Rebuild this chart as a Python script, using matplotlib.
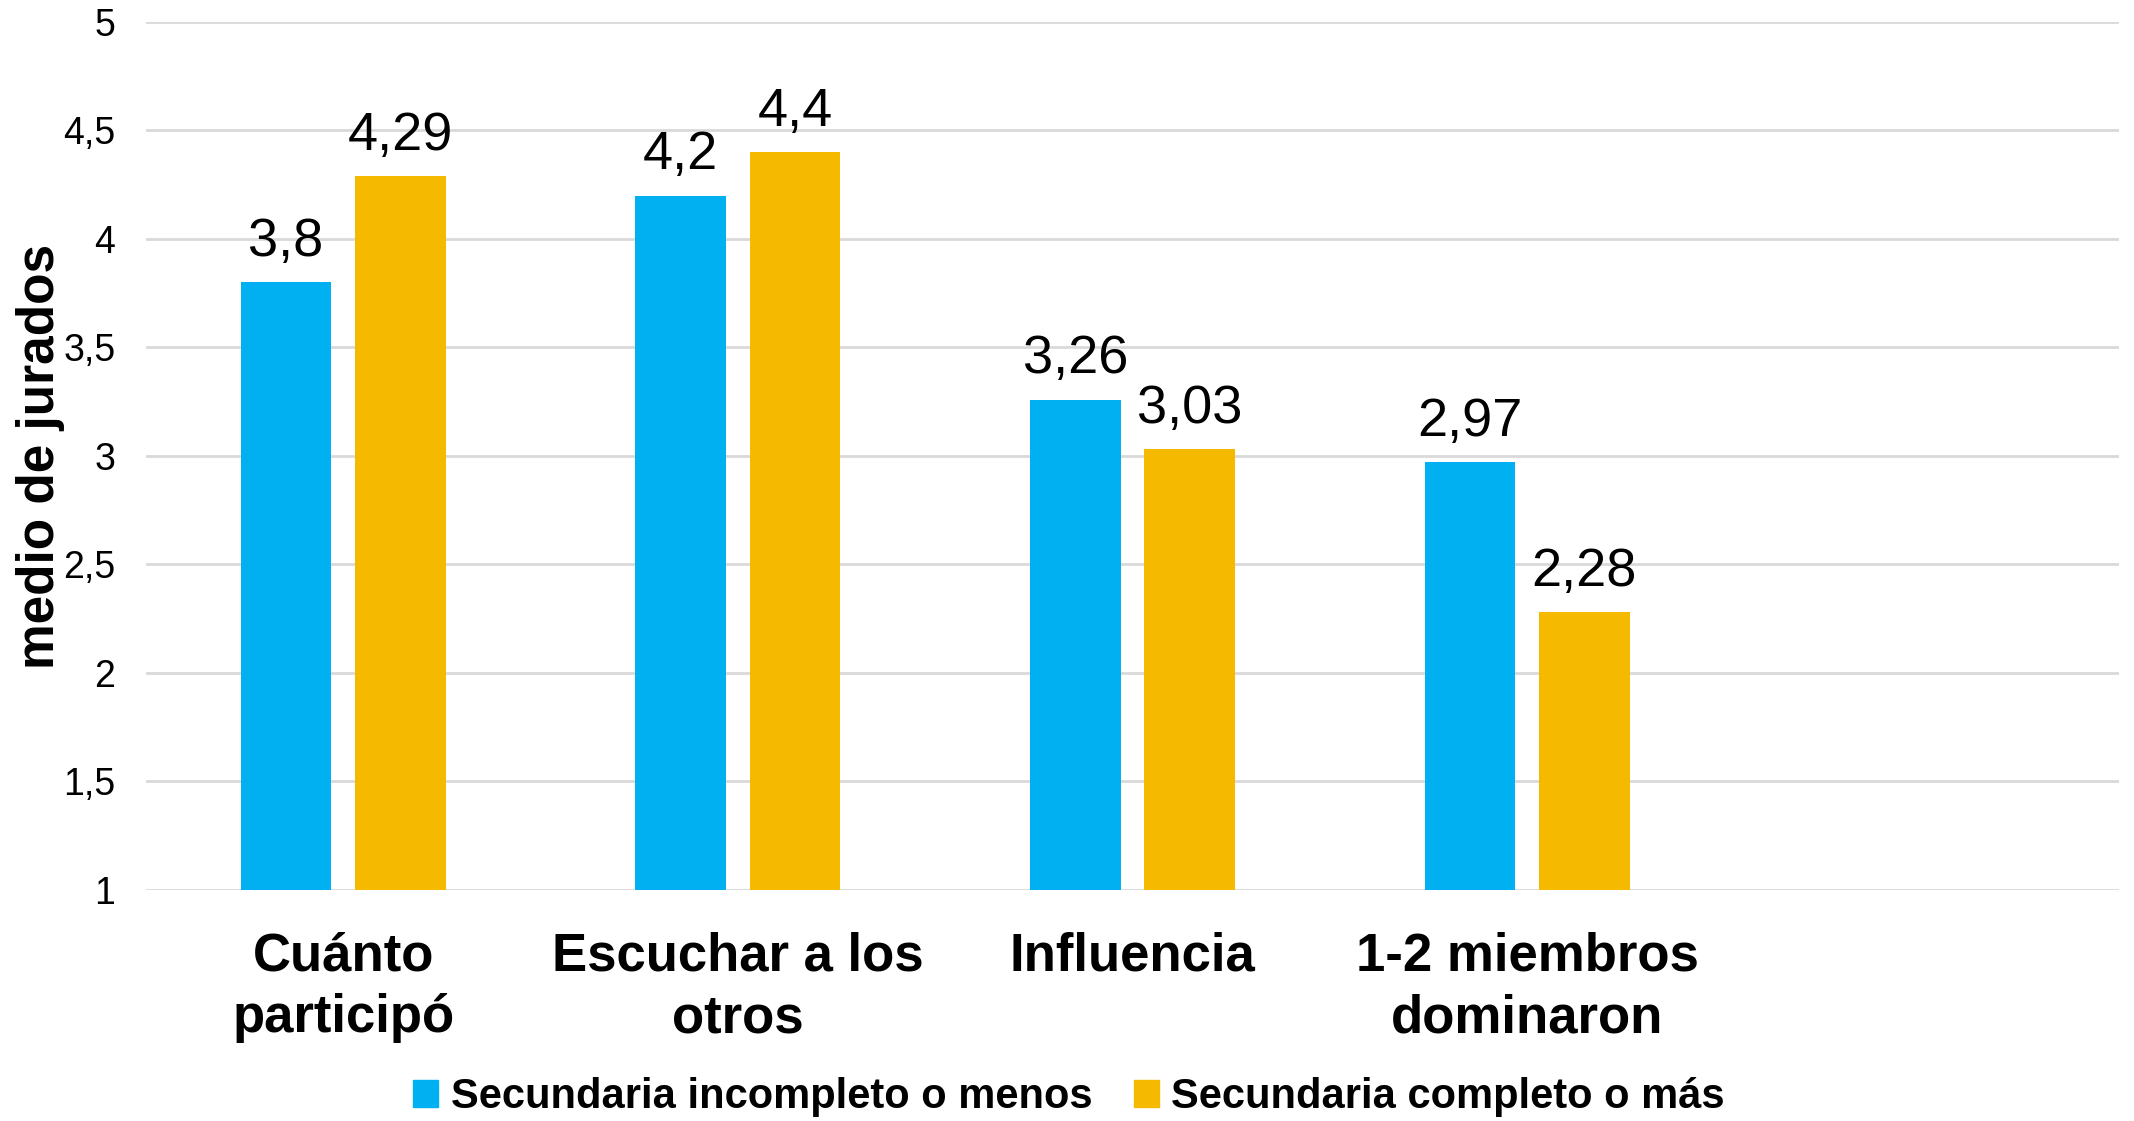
import matplotlib
matplotlib.use("Agg")
import matplotlib.pyplot as plt
import numpy as np
from matplotlib.patches import Patch

categories = ["Cuánto\nparticipó", "Escuchar a los\notros", "Influencia", "1-2 miembros\ndominaron"]
series_names = ["Secundaria incompleto o menos", "Secundaria completo o más"]
incompleto = [3.8, 4.2, 3.26, 2.97]
completo = [4.29, 4.4, 3.03, 2.28]
y_ticks = [1, 1.5, 2, 2.5, 3, 3.5, 4, 4.5, 5]
colors = ["#00B0F0", "#F5B900"]

plt.rcParams['font.family'] = ['Liberation Sans', 'DejaVu Sans']

fig = plt.figure(figsize=(21.34, 11.21), dpi=100)
ax = fig.add_axes([0.0684, 0.2061, 0.9246, 0.7743])

x = np.arange(len(categories))
w = 0.23
off = 0.145
for vals, sign, col in [(incompleto, -1, colors[0]), (completo, 1, colors[1])]:
    bars = ax.bar(x + sign * off, np.array(vals) - 1, width=w, bottom=1, color=col, zorder=3)
    for b, v in zip(bars, vals):
        ax.annotate(f"{v:g}".replace(".", ","), (b.get_x() + b.get_width() / 2, v),
                    xytext=(0, 11), textcoords="offset points",
                    ha="center", va="bottom", fontsize=39)

ax.set_xlim(-0.5, 4.5)
ax.set_ylim(1, 5)
ax.set_yticks(y_ticks)
ax.set_yticklabels([f"{t:g}".replace(".", ",") for t in y_ticks], fontsize=27)
ax.set_xticks(x)
ax.set_xticklabels(categories, fontsize=38, fontweight="bold", linespacing=1.3)
ax.tick_params(axis="y", length=0, pad=22)
ax.tick_params(axis="x", length=0, pad=30)
ax.grid(axis="y", color="#D9D9D9", linewidth=2, zorder=0)
for s in ax.spines.values():
    s.set_visible(False)

ax.set_ylabel("medio de jurados", fontsize=37, fontweight="bold")
ax.yaxis.set_label_coords(-0.041, 0.5)

handles = [Patch(color=c) for c in colors]
fig.legend(handles, series_names, loc="lower center", bbox_to_anchor=(0.501, -0.03),
           ncol=2, frameon=False, handlelength=0.6, handleheight=0.6, handletextpad=0.3,
           columnspacing=1.0, prop={"weight": "bold", "size": 30})

fig.savefig("out.png", dpi=100)
